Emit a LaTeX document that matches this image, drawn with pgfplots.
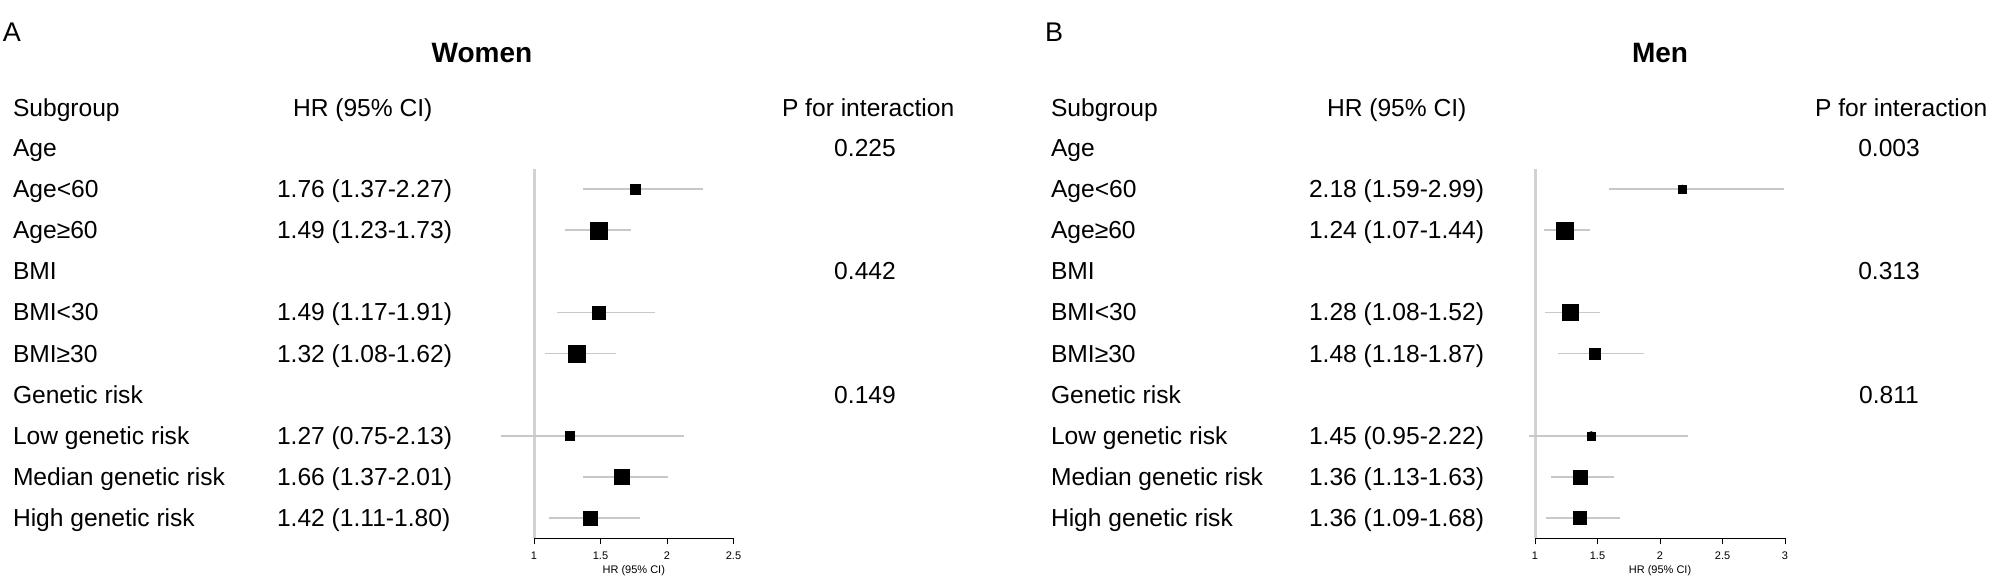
\documentclass[border=0pt]{standalone}
\usepackage{pgfplots}
\pgfplotsset{compat=1.18}
\usepackage{pgfplotstable}
\usepackage{fontspec}
\setmainfont{Liberation Sans}
\definecolor{ciGray}{RGB}{200,200,200}
\definecolor{refGray}{RGB}{210,210,210}

% y = -row ; rows: 1 Age, 2 Age<60, 3 Age>=60, 4 BMI, 5 BMI<30, 6 BMI>=30, 7 Genetic, 8 Low, 9 Median, 10 High
\pgfplotstableread{
y hr lo hi s
-2 1.76 1.37 2.27 10
-3 1.49 1.23 1.73 17
-5 1.49 1.17 1.91 13
-6 1.32 1.08 1.62 17
-8 1.27 0.75 2.13 9.5
-9 1.66 1.37 2.01 15
-10 1.42 1.11 1.80 14
}\dataA
\pgfplotstableread{
y hr lo hi s
-2 2.18 1.59 2.99 8
-3 1.24 1.07 1.44 17
-5 1.28 1.08 1.52 16
-6 1.48 1.18 1.87 11
-8 1.45 0.95 2.22 8
-9 1.36 1.13 1.63 14
-10 1.36 1.09 1.68 13
}\dataB

\pgfplotsset{
  forest/.style={
    scale only axis, clip=false,
    height=184.95pt,
    ymin=-10.5, ymax=-1.5,
    axis x line*=bottom, axis y line=none,
    x axis line style={black, line width=0.5pt},
    tick align=outside, major tick length=3pt,
    xtick style={black, line width=0.5pt},
    ytick=\empty,
    /pgf/number format/assume math mode=true,
    ticklabel style={font=\fontsize{5.5}{6}\selectfont},
    xlabel={HR (95\% CI)},
    xlabel style={font=\fontsize{5.5}{6}\selectfont, yshift=4pt},
  },
  ci/.style={only marks, mark=none, forget plot,
    error bars/.cd, x dir=both, x explicit, error mark=none,
    error bar style={draw=ciGray, line width=0.9pt}},
  sq/.style={scatter, only marks, mark=square*,
    scatter/use mapped color={draw=black, fill=black},
    mark options={line width=0.2pt},
    visualization depends on={\thisrow{s}/4 \as \msz},
    scatter/@pre marker code/.append style={/tikz/mark size=\msz pt}},
}

\newcommand{\bodyfont}{\fontsize{12.3}{14}\selectfont}

\begin{document}
\begin{tikzpicture}
\useasboundingbox (0,0) rectangle (1000pt,-294pt);

% ---------------- Panel A ----------------
\begin{axis}[forest, at={(267pt,-269.225pt)}, anchor=south west,
  width=99.75pt, xmin=1, xmax=2.5, xtick={1,1.5,2,2.5}]
\addplot[refGray, line width=1.5pt, forget plot] coordinates {(1,-1.5) (1,-10.5)};
\addplot[ci] table[x=hr, y=y, x error plus expr=\thisrow{hi}-\thisrow{hr}, x error minus expr=\thisrow{hr}-\thisrow{lo}]{\dataA};
\addplot[sq] table[x=hr, y=y]{\dataA};
\end{axis}

% ---------------- Panel B ----------------
\begin{axis}[forest, at={(767.5pt,-269.225pt)}, anchor=south west,
  width=125pt, xmin=1, xmax=3, xtick={1,1.5,2,2.5,3}]
\addplot[refGray, line width=1.5pt, forget plot] coordinates {(1,-1.5) (1,-10.5)};
\addplot[ci] table[x=hr, y=y, x error plus expr=\thisrow{hi}-\thisrow{hr}, x error minus expr=\thisrow{hr}-\thisrow{lo}]{\dataB};
\addplot[sq] table[x=hr, y=y]{\dataB};
\end{axis}

\begin{scope}[x=0.5pt, y=-0.5pt, every node/.style={inner sep=0pt, outer sep=0pt}]
% Panel labels and titles
\node[anchor=base west, font=\fontsize{13.5}{15}\selectfont] at (3,42) {A};
\node[anchor=base west, font=\fontsize{13.5}{15}\selectfont] at (1045,42) {B};
\node[anchor=base, font=\fontsize{14}{16}\selectfont\bfseries] at (482,63) {Women};
\node[anchor=base, font=\fontsize{14}{16}\selectfont\bfseries] at (1660,63) {Men};

% Headers
\node[anchor=base west, font=\bodyfont] at (13,116.5) {Subgroup};
\node[anchor=base west, font=\bodyfont] at (293,116.5) {HR (95\% CI)};
\node[anchor=base west, font=\bodyfont] at (782,116.5) {P for interaction};
\node[anchor=base west, font=\bodyfont] at (1051,116.5) {Subgroup};
\node[anchor=base west, font=\bodyfont] at (1327,116.5) {HR (95\% CI)};
\node[anchor=base west, font=\bodyfont] at (1815,116.5) {P for interaction};

% Row labels
\foreach \t [count=\k] in {Age,Age<60,Age≥60,BMI,BMI<30,BMI≥30,Genetic risk,Low genetic risk,Median genetic risk,High genetic risk}{
  \node[anchor=base west, font=\bodyfont] at (13,{156.5+(\k-1)*41.1}) {\t};
  \node[anchor=base west, font=\bodyfont] at (1051,{156.5+(\k-1)*41.1}) {\t};
}
% HR text panel A
\foreach \k/\t in {2/1.76 (1.37-2.27),3/1.49 (1.23-1.73),5/1.49 (1.17-1.91),6/1.32 (1.08-1.62),8/1.27 (0.75-2.13),9/1.66 (1.37-2.01),10/1.42 (1.11-1.80)}{
  \node[anchor=base west, font=\bodyfont] at (277,{156.5+(\k-1)*41.1}) {\t};
}
% HR text panel B
\foreach \k/\t in {2/2.18 (1.59-2.99),3/1.24 (1.07-1.44),5/1.28 (1.08-1.52),6/1.48 (1.18-1.87),8/1.45 (0.95-2.22),9/1.36 (1.13-1.63),10/1.36 (1.09-1.68)}{
  \node[anchor=base west, font=\bodyfont] at (1309,{156.5+(\k-1)*41.1}) {\t};
}
% P values
\foreach \k/\t in {1/0.225,4/0.442,7/0.149}{
  \node[anchor=base, font=\bodyfont] at (865,{156.5+(\k-1)*41.1}) {\t};
}
\foreach \k/\t in {1/0.003,4/0.313,7/0.811}{
  \node[anchor=base, font=\bodyfont] at (1889,{156.5+(\k-1)*41.1}) {\t};
}
\end{scope}
\end{tikzpicture}
\end{document}
